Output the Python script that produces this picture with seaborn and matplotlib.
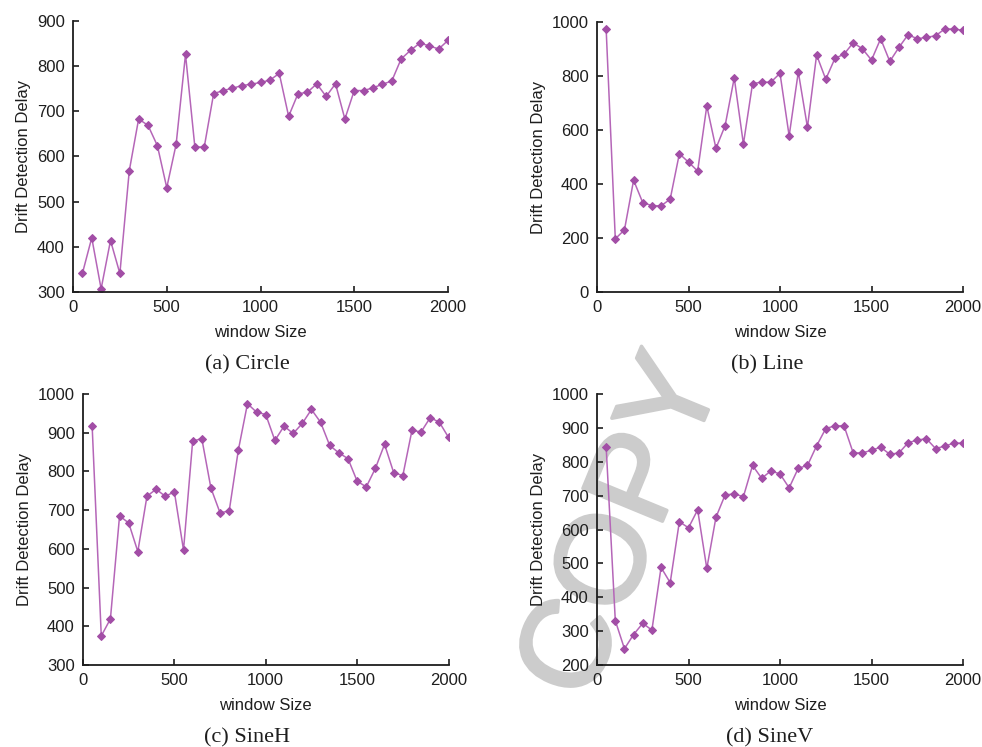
import matplotlib
matplotlib.use("Agg")
import matplotlib.pyplot as plt
import matplotlib.patheffects as pe
import pandas as pd
import seaborn as sns

# window sizes on the x axis
window_size = list(range(50, 2001, 50))

# drift detection delay per dataset
circle = [341, 420, 307, 414, 341, 568, 683, 669, 624, 531,
          627, 826, 621, 621, 739, 746, 751, 757, 760, 764,
          769, 784, 689, 739, 742, 761, 733, 761, 683, 746,
          746, 752, 760, 767, 816, 835, 851, 845, 838, 857]
line = [974, 197, 230, 414, 331, 320, 319, 344, 512, 481,
        448, 689, 532, 616, 793, 548, 772, 777, 777, 810,
        578, 815, 610, 878, 788, 865, 881, 923, 901, 859,
        938, 854, 906, 953, 938, 943, 949, 974, 974, 969]
sineh = [918, 375, 419, 685, 667, 593, 736, 754, 736, 747,
         597, 878, 885, 757, 693, 698, 855, 975, 953, 947,
         880, 917, 898, 924, 960, 927, 867, 848, 833, 775,
         760, 808, 870, 797, 789, 906, 902, 939, 927, 888]
sinev = [844, 331, 248, 290, 323, 303, 488, 443, 623, 605,
         658, 485, 636, 702, 705, 697, 789, 751, 773, 764,
         723, 781, 789, 847, 898, 906, 906, 826, 826, 834,
         843, 822, 826, 856, 864, 868, 839, 846, 855, 855]

captions = ["(a) Circle", "(b) Line", "(c) SineH", "(d) SineV"]
series = [circle, line, sineh, sinev]
y_limits = [(300, 900), (0, 1000), (300, 1000), (200, 1000)]
y_steps = [100, 200, 100, 100]

sns.set_style("ticks")
plt.rcParams["font.family"] = ["Liberation Sans", "DejaVu Sans"]

W, H = 982, 747
fig = plt.figure(figsize=(W / 100, H / 100), dpi=100)

# axes boxes in pixels: left, top, right, bottom
boxes = [(73, 21, 448, 292), (597, 22, 963, 292),
         (83, 394, 448.5, 665), (597, 394, 963, 665)]
caption_x = [247, 767, 247, 770]

purple_line = "#b566b8"
purple_mark = "#a24ea6"
ink = "#1e1e1e"

for vals, cap, (y0, y1), step, (l, t, r, b), cx in zip(
        series, captions, y_limits, y_steps, boxes, caption_x):
    ax = fig.add_axes([l / W, 1 - b / H, (r - l) / W, (b - t) / H])
    ax.set_facecolor("none")
    df = pd.DataFrame({"window Size": window_size, "Drift Detection Delay": vals})
    sns.lineplot(data=df, x="window Size", y="Drift Detection Delay", ax=ax,
                 color=purple_line, linewidth=1.1, marker="D", markersize=4.2,
                 markerfacecolor=purple_mark, markeredgecolor=purple_mark)
    ax.set_xlim(0, 2000)
    ax.set_ylim(y0, y1)
    ax.set_xticks(range(0, 2001, 500))
    ax.set_yticks(range(y0, y1 + 1, step))
    sns.despine(ax=ax)
    for s in ("left", "bottom"):
        ax.spines[s].set_color(ink)
        ax.spines[s].set_linewidth(1.3)
    ax.tick_params(direction="in", length=4, width=1.2, colors=ink,
                   labelsize=12, pad=6)
    ax.set_xlabel("window Size", fontsize=12, labelpad=7, color=ink)
    ax.set_ylabel("Drift Detection Delay", fontsize=12, labelpad=4, color=ink)
    fig.text(cx / W, 1 - (b + 73) / H, cap, ha="center", va="center",
             fontsize=16, family=["Liberation Serif", "DejaVu Serif"], color=ink)

# watermark across the lower right panel
fig.text(625 / W, 1 - 528 / H, "COPY", rotation=67.6, rotation_mode="anchor",
         ha="center", va="center", fontsize=90, color="#cccccc", zorder=-1,
         family=["Liberation Sans", "DejaVu Sans"],
         path_effects=[pe.withStroke(linewidth=2.5, foreground="#cccccc")])

fig.savefig("out.png", dpi=100)
